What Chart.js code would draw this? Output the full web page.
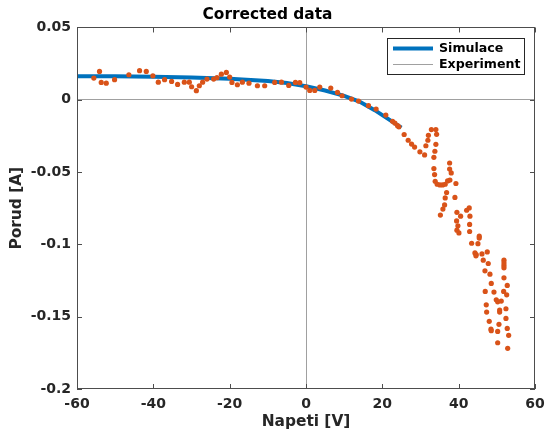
<!DOCTYPE html>
<html>
<head>
<meta charset="utf-8">
<script src="https://cdn.jsdelivr.net/npm/chart.js@4"></script>
<style>
  html, body { margin: 0; padding: 0; background: #fff; }
  #chart { display: block; }
</style>
</head>
<body>
<canvas id="chart" width="547" height="431"></canvas>
<script>
// ---- data ----
const simVoltage = [-60, -50, -40, -30, -20, -10, -5, 0, 5, 10, 14, 18, 22, 25];
const simCurrent = [0.0163, 0.0162, 0.016, 0.0154, 0.0146, 0.013, 0.0116, 0.0093, 0.0064, 0.0027, -0.0012, -0.0072, -0.0141, -0.0193];

const expVoltage = [
  -55.59, -54.10, -53.65, -52.34, -50.16, -46.41, -43.61, -41.85, -40.12, -38.70,
  -37.05, -35.21, -33.64, -31.88, -30.57, -29.97, -28.73, -27.95, -27.08, -25.95,
  -24.20, -23.33, -22.18, -20.87, -20.00, -19.40, -17.98, -16.67, -14.94, -12.73,
  -10.82, -8.20, -6.44, -4.52, -2.77, -1.64, 0.01, 0.98, 2.30, 3.61,
  6.49, 8.25, 9.46, 11.92, 13.76, 16.38, 18.37, 20.92, 22.68, 23.28,
  23.99, 24.33, 25.72, 26.77, 27.66, 28.45, 29.84, 31.07, 31.41, 31.93,
  32.07, 32.85, 34.03, 34.22, 34.03, 33.77, 33.51, 33.51, 33.69, 33.85,
  34.37, 35.08, 35.79, 36.47, 37.10, 37.70, 38.05, 37.63, 37.63, 39.28,
  36.84, 36.47, 39.02, 36.31, 35.87, 35.21, 39.54, 40.51, 42.09, 42.77,
  42.95, 39.46, 39.80, 39.54, 40.07, 42.87, 42.87, 45.39, 45.39, 43.40,
  45.05, 44.26, 44.60, 44.52, 46.10, 47.49, 46.44, 47.75, 46.89, 48.20,
  51.87, 51.87, 51.87, 51.87, 48.54, 51.87, 52.73, 46.96, 49.25, 51.79,
  52.58, 49.85, 50.22, 51.16, 47.23, 50.74, 50.74, 52.39, 47.33, 52.39,
  48.01, 50.56, 48.46, 48.54, 50.22, 52.73, 53.10, 50.22, 52.84
];
const expCurrent = [
  0.0150, 0.0196, 0.0120, 0.0115, 0.0139, 0.0173, 0.0201, 0.0196, 0.0166, 0.0122,
  0.0139, 0.0127, 0.0106, 0.0122, 0.0122, 0.0090, 0.0063, 0.0097, 0.0122, 0.0143,
  0.0143, 0.0153, 0.0177, 0.0189, 0.0157, 0.0120, 0.0104, 0.0122, 0.0115, 0.0097,
  0.0097, 0.0120, 0.0122, 0.0099, 0.0120, 0.0118, 0.0088, 0.0065, 0.0065, 0.0088,
  0.0081, 0.0051, 0.0028, 0.0005, -0.0009, -0.0041, -0.0064, -0.0106, -0.0149, -0.0161,
  -0.0179, -0.0187, -0.0240, -0.0280, -0.0306, -0.0327, -0.0360, -0.0381, -0.0318, -0.0280,
  -0.0246, -0.0206, -0.0206, -0.0239, -0.0308, -0.0356, -0.0398, -0.0476, -0.0517, -0.0564,
  -0.0584, -0.0589, -0.0589, -0.0584, -0.0561, -0.0555, -0.0506, -0.0479, -0.0437, -0.0579,
  -0.0641, -0.0679, -0.0675, -0.0727, -0.0756, -0.0797, -0.0778, -0.0805, -0.0764, -0.0748,
  -0.0805, -0.0838, -0.0871, -0.0902, -0.0921, -0.0862, -0.0911, -0.0943, -0.0956, -0.0992,
  -0.0995, -0.1059, -0.1070, -0.1079, -0.1066, -0.1052, -0.1109, -0.1132, -0.1183, -0.1206,
  -0.1109, -0.1128, -0.1146, -0.1162, -0.1270, -0.1231, -0.1284, -0.1325, -0.1330, -0.1325,
  -0.1349, -0.1383, -0.1397, -0.1392, -0.1418, -0.1454, -0.1468, -0.1445, -0.1468, -0.1512,
  -0.1532, -0.1553, -0.1586, -0.1597, -0.1602, -0.1581, -0.1629, -0.1680, -0.1719
];

const xTicks = [-60, -40, -20, 0, 20, 40, 60];
const yTicks = [-0.2, -0.15, -0.1, -0.05, 0, 0.05];

// ---- style ----
const FONT = "'DejaVu Sans', sans-serif";
const BLUE = "#0072bd";
const ORANGE = "#d95319";
const AXIS = "#4d4d4d";
const ZERO = "#a0a0a0";

function zip(xs, ys) {
  return xs.map((x, i) => ({ x, y: ys[i] }));
}

function fmt(v) {
  return String(Number(v.toFixed(2)));
}

// frame, inward tick marks and legend box (MATLAB look)
const matlabAxes = {
  id: "matlabAxes",
  afterDatasetsDraw(chart) {
    const { ctx, chartArea: a, scales } = chart;
    const L = 5;
    ctx.save();
    ctx.strokeStyle = AXIS;
    ctx.lineWidth = 1;
    ctx.beginPath();
    for (const v of xTicks) {
      const px = Math.round(scales.x.getPixelForValue(v)) + 0.5;
      ctx.moveTo(px, a.bottom); ctx.lineTo(px, a.bottom - L);
      ctx.moveTo(px, a.top); ctx.lineTo(px, a.top + L);
    }
    for (const v of yTicks) {
      const py = Math.round(scales.y.getPixelForValue(v)) + 0.5;
      ctx.moveTo(a.left, py); ctx.lineTo(a.left + L, py);
      ctx.moveTo(a.right, py); ctx.lineTo(a.right - L, py);
    }
    ctx.stroke();
    ctx.strokeRect(Math.round(a.left) + 0.5, Math.round(a.top) + 0.5,
      Math.round(a.right - a.left) - 1, Math.round(a.bottom - a.top) - 1);

    // legend
    const bx = 387, by = 38, bw = 137, bh = 36;
    ctx.fillStyle = "#fff";
    ctx.fillRect(bx, by, bw, bh);
    ctx.strokeStyle = "#262626";
    ctx.strokeRect(bx + 0.5, by + 0.5, bw, bh);
    const ds = chart.data.datasets;
    const rows = [
      { label: ds[0].label, color: BLUE, width: 4, y: by + 10.5 },
      { label: ds[1].label, color: ZERO, width: 1, y: by + 26.5 },
    ];
    ctx.font = "bold 12.6px " + FONT;
    ctx.textBaseline = "middle";
    for (const r of rows) {
      ctx.strokeStyle = r.color;
      ctx.lineWidth = r.width;
      ctx.beginPath();
      ctx.moveTo(bx + 6, r.y);
      ctx.lineTo(bx + 46, r.y);
      ctx.stroke();
      ctx.fillStyle = "#000";
      ctx.fillText(r.label, bx + 52, r.y + 0.5);
    }
    ctx.restore();
  },
};

function zeroGrid(c) {
  return c.tick && Math.abs(c.tick.value) < 1e-9 ? ZERO : "rgba(0,0,0,0)";
}

new Chart(document.getElementById("chart"), {
  type: "scatter",
  data: {
    datasets: [
      {
        label: "Simulace",
        data: zip(simVoltage, simCurrent),
        showLine: true,
        borderColor: BLUE,
        borderWidth: 4,
        pointRadius: 0,
        tension: 0,
        order: 2,
      },
      {
        label: "Experiment",
        data: zip(expVoltage, expCurrent),
        backgroundColor: ORANGE,
        borderWidth: 0,
        pointRadius: 2.6,
        order: 1,
      },
    ],
  },
  options: {
    responsive: false,
    animation: false,
    layout: { padding: { left: 0, right: 12, top: 0, bottom: 0 } },
    plugins: {
      legend: { display: false },
      tooltip: { enabled: false },
      title: {
        display: true,
        text: "Corrected data",
        color: "#000",
        font: { family: FONT, size: 15.4, weight: "bold" },
        padding: { top: 6, bottom: 3 },
      },
    },
    scales: {
      x: {
        type: "linear",
        min: -60,
        max: 60,
        afterBuildTicks: (s) => { s.ticks = xTicks.map((v) => ({ value: v })); },
        afterFit: (s) => {
          s.height = 42;
          s.paddingLeft = 0;
          s.paddingRight = 0;
        },
        grid: { color: zeroGrid, drawTicks: false },
        border: { display: false },
        ticks: {
          color: "#262626",
          padding: 7,
          maxRotation: 0,
          font: { family: FONT, size: 14, weight: "bold" },
          callback: (v) => fmt(v),
        },
        title: {
          display: true,
          text: "Napeti [V]",
          color: "#262626",
          padding: { top: 0, bottom: 0 },
          font: { family: FONT, size: 15.4, weight: "bold" },
        },
      },
      y: {
        type: "linear",
        min: -0.2,
        max: 0.05,
        afterBuildTicks: (s) => { s.ticks = yTicks.map((v) => ({ value: v })); },
        afterFit: (s) => {
          s.width = 77;
          s.paddingTop = 0;
          s.paddingBottom = 0;
        },
        grid: { color: zeroGrid, drawTicks: false },
        border: { display: false },
        ticks: {
          color: "#262626",
          padding: 6,
          font: { family: FONT, size: 14, weight: "bold" },
          callback: (v) => fmt(v),
        },
        title: {
          display: true,
          text: "Porud [A]",
          color: "#262626",
          padding: { top: 8, bottom: 0 },
          font: { family: FONT, size: 15.4, weight: "bold" },
        },
      },
    },
  },
  plugins: [matlabAxes],
});
</script>
</body>
</html>
